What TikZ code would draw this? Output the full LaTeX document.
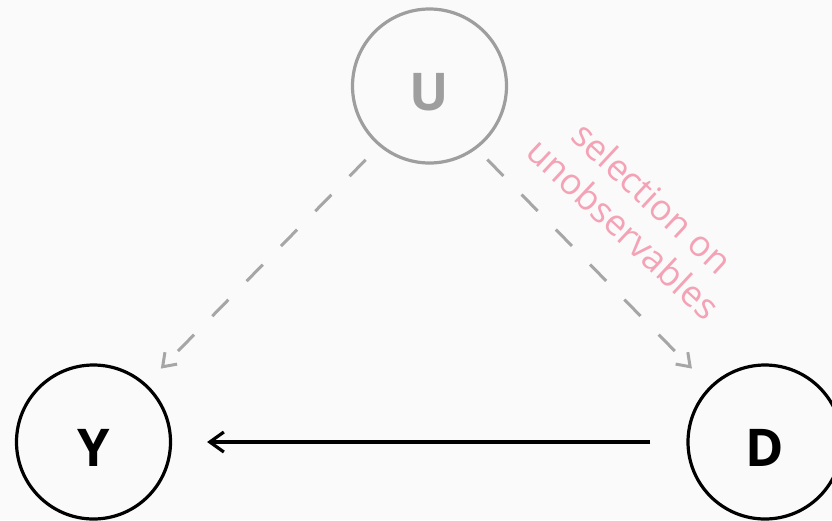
\documentclass[tikz,border=0pt]{standalone}
\usepackage{fontspec}
\setmainfont{Open Sans}
\usetikzlibrary{arrows.meta}
\definecolor{bg}{HTML}{FAFAFA}
\definecolor{midgray}{HTML}{9E9E9E}
\definecolor{edgegray}{HTML}{A6A6A6}
\definecolor{notepink}{HTML}{F4A3B6}
\begin{document}
\begin{tikzpicture}[x=1pt,y=-1pt,
  var/.style={circle, draw, line width=3.2pt, minimum size=154pt, inner sep=0pt,
    font=\fontsize{52}{52}\selectfont\bfseries, text height=49pt, text depth=0pt},
  latent/.style={var, draw=midgray, text=midgray},
  observed/.style={var, draw=black, text=black},
  causal/.style={line width=3.2pt, -{Straight Barb[length=14pt,width=20pt]}},
  confound/.style={line width=3pt, draw=edgegray, dash pattern=on 23pt off 26pt,
    -{Straight Barb[length=12pt,width=17pt]}},
]
\fill[bg] (0,0) rectangle (832,520);
\useasboundingbox (0,0) rectangle (832,520);
\clip (0,0) rectangle (832,520);
% variables
\node[latent]   (U) at (429.5,86) {U};
\node[observed] (Y) at (93.5,442) {Y};
\node[observed] (D) at (765,442)  {D};
% edges
\draw[confound, shorten <=19pt, shorten >=21pt] (U.230) -- (Y.48);
\draw[confound, shorten <=15pt, shorten >=25pt] (U.307) -- (D.135);
\draw[causal, shorten <=36pt, shorten >=35pt] (D.west) -- (Y.east);
% annotation on the U -> D path
\node[text=notepink, rotate=-43, align=center, inner sep=0pt,
  font=\fontsize{36}{42}\selectfont] (note) at (638,213) {selection on\\unobservables};
\end{tikzpicture}
\end{document}
